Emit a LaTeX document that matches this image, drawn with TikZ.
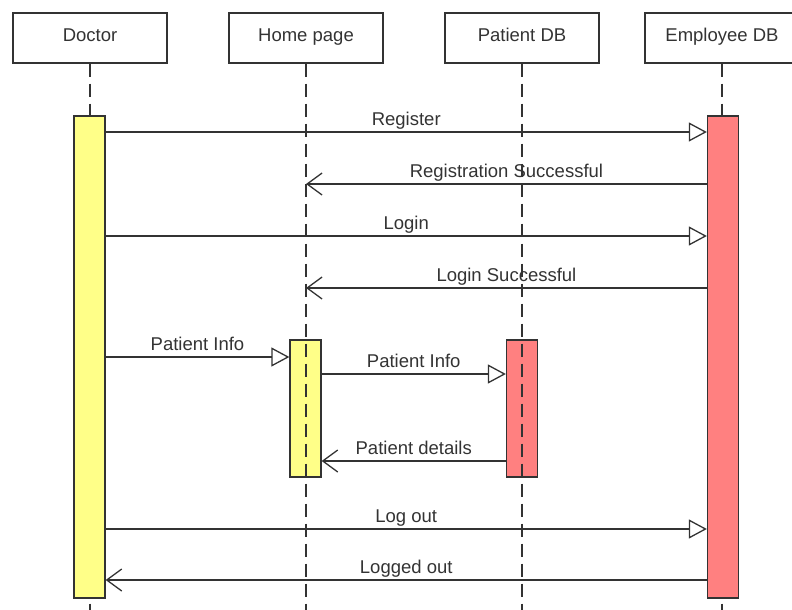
\documentclass[tikz,border=0pt]{standalone}
\usepackage{fontspec}
\setmainfont{Liberation Sans}
\usetikzlibrary{arrows.meta}
\definecolor{actyellow}{HTML}{FFFF88}
\definecolor{actred}{HTML}{FF8080}
\definecolor{ink}{HTML}{333333}

\begin{document}
\begin{tikzpicture}
  [x=1pt,y=-1pt,color=ink,line width=1.3pt,every node/.style={font=\fontsize{18.5}{22}\selectfont}]
  \tikzstyle{head} = [draw,rectangle,minimum width=154pt,minimum height=50pt,text height=15pt,text depth=7pt]
  \tikzstyle{bar} = [draw,rectangle,minimum width=31pt,inner sep=0pt]
  \tikzstyle{life} = [dash pattern=on 13pt off 7pt]
  \tikzstyle{call} = [-{Triangle[open,length=18pt,width=19pt]}]
  \tikzstyle{reply} = [-{Straight Barb[length=15pt,width=22pt]}]
  \tikzstyle{msg} = [midway,above,inner sep=0pt,yshift=6pt,text depth=0pt]
  \useasboundingbox (0,0) rectangle (792,610);

  \node[head] (doc) at (90,38) {Doctor};
  \node[head] (home) at (306,38) {Home page};
  \node[head] (pdb) at (522,38) {Patient DB};
  \node[head] (edb) at (722,38) {Employee DB};

  \node[bar,fill=actyellow,minimum height=137pt] (homebar) at (305.5,408.5) {};
  \node[bar,fill=actred,minimum height=137pt] (pdbbar) at (522,408.5) {};
  \foreach \head in {doc,home,pdb,edb}
    \draw[life] (\head.south) -- (\head.south |- 0,610);
  \node[bar,fill=actyellow,minimum height=482pt] (docbar) at (89.5,357) {};
  \node[bar,fill=actred,minimum height=482pt] (edbbar) at (723,357) {};

\foreach \source/\dest/\y/\txt in {docbar.east/edbbar.west/132/Register,
    docbar.east/edbbar.west/236/Login,docbar.east/homebar.west/357/Patient Info,
    homebar.east/pdbbar.west/374/Patient Info,docbar.east/edbbar.west/529/Log out}
   \draw[call] (\source |- 0,\y) -- node[msg] {\txt} (\dest |- 0,\y);

\foreach \source/\dest/\y/\txt in {edbbar.west/home/184/Registration Successful,
    edbbar.west/home/288/Login Successful,pdbbar.west/homebar.east/461/Patient details,
    edbbar.west/docbar.east/580/Logged out}
   \draw[reply] (\source |- 0,\y) -- node[msg] {\txt} (\dest |- 0,\y);

\end{tikzpicture}
\end{document}
